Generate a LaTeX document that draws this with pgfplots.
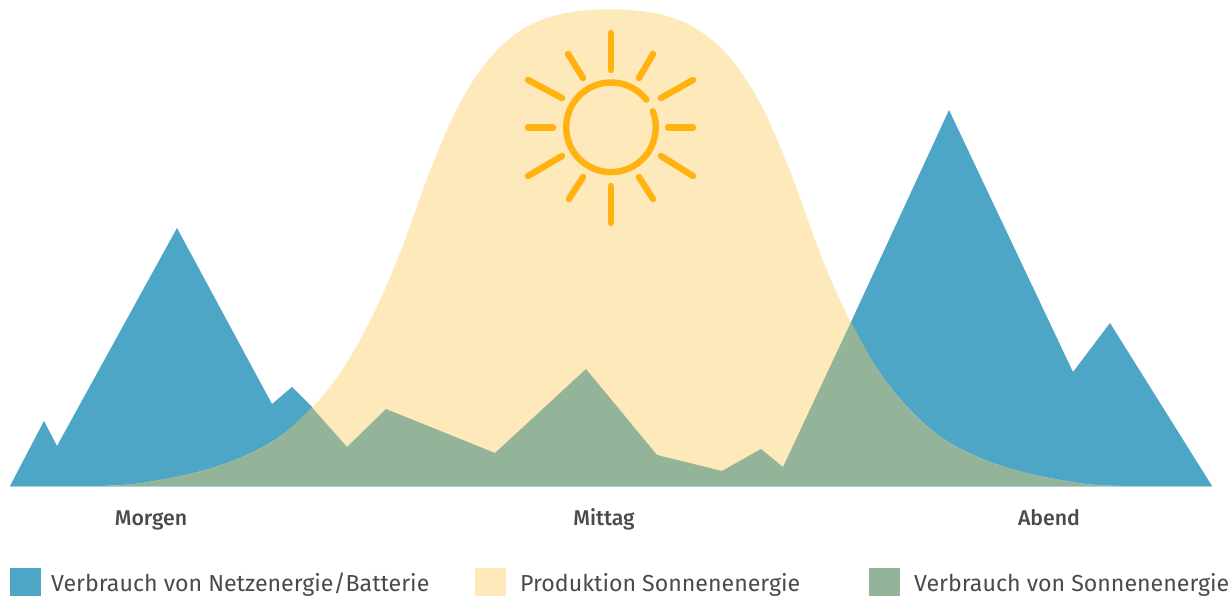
\documentclass[border=0pt]{standalone}
\usepackage{pgfplots}
\usepackage{fontspec}
\setmainfont{Fira Sans}
\newfontfamily\labelfont{Fira Sans Medium}
\pgfplotsset{compat=1.18}
\definecolor{netz}{HTML}{4DA6C6}
\definecolor{prod}{HTML}{FEE9BA}
\definecolor{verb}{HTML}{93B498}
\definecolor{sun}{HTML}{FFB210}
\definecolor{txt}{HTML}{4A4A4A}
\begin{document}
\begin{tikzpicture}
\path[use as bounding box] (0,0) rectangle (1232pt,596pt);
\begin{axis}[
  at={(0,0)}, anchor=south west,
  scale only axis, width=1232pt, height=596pt,
  xmin=0, xmax=1232, ymin=-110, ymax=486,
  hide axis, clip=true,
  ray/.style={draw=sun, line width=6.4pt, line cap=round, forget plot},
]
% Verbrauch Netzenergie/Batterie
\addplot[fill=netz, draw=none] coordinates {(10,0)(44,65)(57,40)(177,258)(272,82)(292,99)(312,79)(347,39)(386,77)(495,33)(586,117)(657,31)(722,15)(761,37)(783,19)(851,164)(949,376)(1073,114)(1110,163)(1212,0)} -- cycle;
% Produktion Sonnenenergie
\addplot[fill=prod, draw=none, smooth, tension=0.62] coordinates {(100,0)(130,1.5)(160,6)(190,12)(220,20.5)(250,32.5)(280,49.5)(310,76)(340,113)(370,165)(400,233)(430,315)(460,383)(490,428)(520,455)(550,469)(580,475)(610,476.7)(640,475)(670,469)(700,455)(730,428)(760,383)(790,315)(820,233)(850,165)(880,113)(910,76)(940,49.5)(970,32.5)(1000,20.5)(1030,12)(1060,6)(1090,1.5)(1120,0)} -- cycle;
% Verbrauch Sonnenenergie
\addplot[fill=verb, draw=none, smooth, tension=0.62] coordinates {(100,0)(130,1.5)(160,6)(190,12)(220,20.5)(250,32.5)(280,49.5)(312,78.5)} -- (axis cs:312,0) -- cycle;
\addplot[fill=verb, draw=none] coordinates {(305,0)(312,78.5)(347,39)(386,77)(495,33)(586,117)(657,31)(722,15)(761,37)(783,19)(851,164)(858,0)} -- cycle;
\addplot[fill=verb, draw=none, smooth, tension=0.62] coordinates {(851,164)(880,113)(910,76)(940,49.5)(970,32.5)(1000,20.5)(1030,12)(1060,6)(1090,1.5)(1120,0)} -- (axis cs:851,0) -- cycle;
% baseline
\addplot[draw=netz!50, line width=0.7pt] coordinates {(10,-0.5)(1212,-0.5)};
% Sonne
\addplot[ray] coordinates {(611,453)(611,416)};
\addplot[ray] coordinates {(611,300)(611,263)};
\addplot[ray] coordinates {(528,358.5)(553,358.5)};
\addplot[ray] coordinates {(668,358.5)(693,358.5)};
\addplot[ray] coordinates {(661,388)(693,406)};
\addplot[ray] coordinates {(562,388)(528,406)};
\addplot[ray] coordinates {(562,330)(528,310)};
\addplot[ray] coordinates {(661,330)(693,310)};
\addplot[ray] coordinates {(639,408)(653,432)};
\addplot[ray] coordinates {(583,408)(568,432)};
\addplot[ray] coordinates {(583,309)(569,287)};
\addplot[ray] coordinates {(639,309)(653,287)};
\draw[draw=sun, line width=6.4pt, line cap=round] ([shift={(38:44.8pt)}] axis cs:611,358.7) arc[start angle=38, end angle=381, radius=44.8pt];
% Achsenbeschriftung
\node[txt, font=\labelfont\fontsize{21.3}{24}\selectfont, anchor=base] at (axis cs:151,-40) {Morgen};
\node[txt, font=\labelfont\fontsize{21.3}{24}\selectfont, anchor=base] at (axis cs:604,-40) {Mittag};
\node[txt, font=\labelfont\fontsize{21.3}{24}\selectfont, anchor=base] at (axis cs:1049,-40) {Abend};
% Legende
\addplot[fill=netz, draw=none] coordinates {(10,-82)(41,-82)(41,-110)(10,-110)} -- cycle;
\addplot[fill=prod, draw=none] coordinates {(475,-82)(506,-82)(506,-110)(475,-110)} -- cycle;
\addplot[fill=verb, draw=none] coordinates {(869,-82)(900,-82)(900,-110)(869,-110)} -- cycle;
\node[txt, font=\fontsize{23.15}{26}\selectfont, anchor=base west, inner sep=0pt] at (axis cs:51,-106) {Verbrauch von Netzenergie/Batterie};
\node[txt, font=\fontsize{23.15}{26}\selectfont, anchor=base west, inner sep=0pt] at (axis cs:520,-106) {Produktion Sonnenenergie};
\node[txt, font=\fontsize{23.15}{26}\selectfont, anchor=base west, inner sep=0pt] at (axis cs:914,-106) {Verbrauch von Sonnenenergie};
\end{axis}
\end{tikzpicture}
\end{document}
